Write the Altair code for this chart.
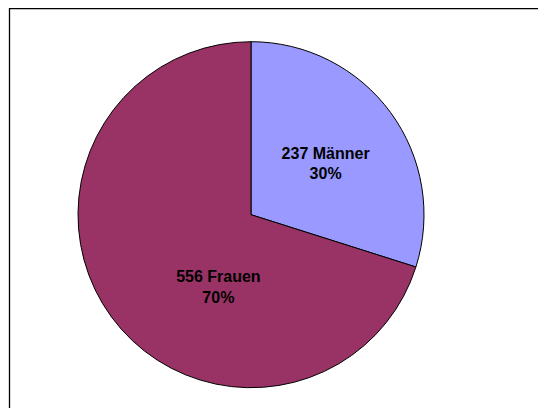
import altair as alt
import pandas as pd

categories = ["Männer", "Frauen"]
values = [237, 556]
colors = ["#9999FF", "#993366"]

df = pd.DataFrame({"cat": categories, "value": values})

W, H = 530, 400
CX, CY = 243, 206.7
R = 173

base = alt.Chart(df).transform_window(
    idx="row_number()"
).transform_joinaggregate(
    total="sum(value)"
).transform_calculate(
    label="datum.value + ' ' + datum.cat + '\\n' + format(datum.value / datum.total, '.0%')"
)

theta = alt.Theta("value:Q", stack=True)
order = alt.Order("idx:Q", sort="ascending")

pie = base.mark_arc(outerRadius=R, stroke="black", strokeWidth=1).encode(
    theta=theta,
    order=order,
    color=alt.Color("cat:N", scale=alt.Scale(domain=categories, range=colors), legend=None),
    x=alt.value(CX),
    y=alt.value(CY),
)

def label_layer(cat, dx, dy):
    return base.transform_calculate(
        shown=f"datum.cat == '{cat}' ? datum.label : ''"
    ).mark_text(
        radius=90, font="Liberation Sans", fontSize=16, fontWeight="bold",
        color="black", lineBreak="\n", lineHeight=20.5, align="center",
        baseline="middle", dx=dx, dy=dy,
    ).encode(
        theta=theta,
        order=order,
        text="shown:N",
        x=alt.value(CX),
        y=alt.value(CY),
    )

lbl_m = label_layer("Männer", 2, -8)
lbl_f = label_layer("Frauen", 40, 9.5)

frame_src = alt.Chart(alt.Data(values=[{"a": 1}]))
top_line = frame_src.mark_rule(color="black", strokeWidth=1.3).encode(
    x=alt.value(1.5), x2=alt.value(W), y=alt.value(0.5)
)
left_line = frame_src.mark_rule(color="black", strokeWidth=1.3).encode(
    x=alt.value(1.5), y=alt.value(0), y2=alt.value(H)
)

chart = alt.layer(pie, lbl_m, lbl_f, top_line, left_line).properties(
    width=W, height=H, padding=0, autosize=alt.AutoSizeParams(type="none"),
    background="white",
).configure_view(stroke=None)

chart.save("out.html", embed_options={"renderer": "svg", "actions": False})
